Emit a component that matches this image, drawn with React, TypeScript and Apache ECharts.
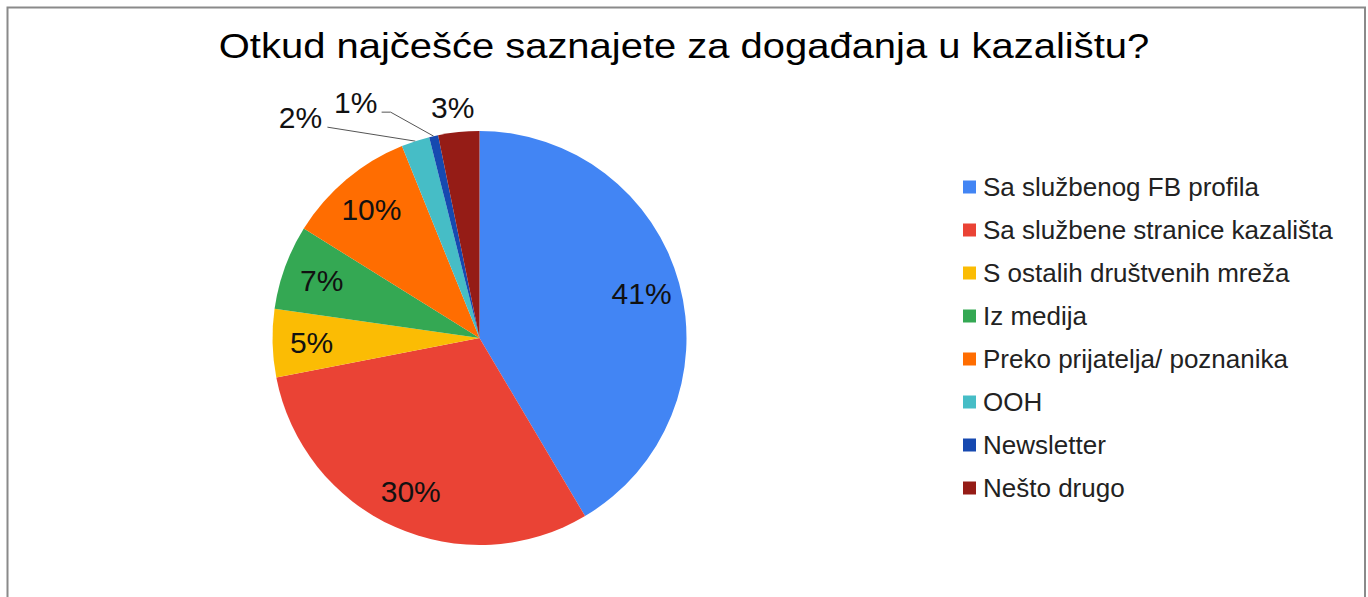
import React, { useEffect, useRef } from "react";
import * as echarts from "echarts";

const TITLE = "Otkud najčešće saznajete za događanja u kazalištu?";
const CATEGORIES = [
  "Sa službenog FB profila",
  "Sa službene stranice kazališta",
  "S ostalih društvenih mreža",
  "Iz medija",
  "Preko prijatelja/ poznanika",
  "OOH",
  "Newsletter",
  "Nešto drugo",
];
const VALUES = [41.4, 30.4, 5.3, 6.6, 10.0, 2.2, 0.7, 3.2];
const COLORS = ["#4285F4", "#EA4335", "#FBBC04", "#34A853", "#FF6D01", "#46BDC6", "#1649B0", "#951C16"];

// indices of slices whose labels sit outside the pie
const OUTSIDE = [5, 6, 7];
// label placement offsets (relative to the slice's outer edge point)
const OUTSIDE_LAYOUT: Record<number, { label: [number, number]; line?: [number, number][] }> = {
  5: { label: [-115, -24], line: [[-88, -14]] },
  6: { label: [-78, -34], line: [[-43, -24], [-52, -24]] },
  7: { label: [-6, -25] },
};

const FONT = "'Liberation Sans', Arial, Helvetica, sans-serif";

export default function App() {
  const ref = useRef<HTMLDivElement>(null);
  useEffect(() => {
    if (!ref.current) return;
    const chart = echarts.init(ref.current, undefined, { renderer: "svg" });
    const center = [479.5, 338];
    const baseData = CATEGORIES.map((name, i) => ({
      name,
      value: VALUES[i],
      itemStyle: { color: COLORS[i] },
    }));
    const labelData = CATEGORIES.map((name, i) => {
      const outside = OUTSIDE.includes(i);
      return {
        name,
        value: VALUES[i],
        label: { position: outside ? "outside" : "inside" },
        labelLine: { show: outside && i !== 7 },
      };
    });
    chart.setOption({
      animation: false,
      textStyle: { fontFamily: FONT },
      legend: {
        orient: "vertical",
        left: 963,
        top: 174,
        padding: 0,
        icon: "rect",
        itemWidth: 13,
        itemHeight: 13,
        itemGap: 17,
        data: CATEGORIES,
        textStyle: { fontSize: 26, lineHeight: 26, color: "#222", fontFamily: FONT, padding: [0, 0, 0, 2] },
      },
      graphic: [
        {
          type: "rect",
          shape: { x: 7.5, y: 7.5, width: 1357.5, height: 640 },
          style: { fill: "none", stroke: "#8a8a8a", lineWidth: 2 },
          silent: true,
          z: -10,
        },
        {
          type: "text",
          x: 684,
          y: 46,
          scaleX: 1.11,
          style: {
            text: TITLE,
            fontSize: 36,
            fontFamily: FONT,
            fill: "#000",
            align: "center",
            verticalAlign: "middle",
          },
          silent: true,
        },
      ],
      series: [
        {
          type: "pie",
          center,
          radius: 207,
          startAngle: 90,
          clockwise: true,
          data: baseData,
          label: { show: false },
          labelLine: { show: false },
          emphasis: { disabled: true },
        },
        {
          type: "pie",
          center,
          radius: [123, 207],
          startAngle: 90,
          clockwise: true,
          silent: true,
          data: labelData,
          itemStyle: { color: "rgba(0,0,0,0)" },
          emphasis: { disabled: true },
          label: {
            show: true,
            fontSize: 30,
            color: "#111",
            fontFamily: FONT,
            formatter: (p: any) => Math.round(p.percent) + "%",
          },
          labelLine: {
            length: 10,
            length2: 10,
            lineStyle: { color: "#555", width: 1 },
          },
          labelLayout: (p: any) => {
            const off = OUTSIDE_LAYOUT[p.dataIndex];
            if (!off) return {};
            let ex: number, ey: number;
            if (p.labelLinePoints && p.labelLinePoints[0]) {
              ex = p.labelLinePoints[0][0];
              ey = p.labelLinePoints[0][1];
            } else {
              const total = VALUES.reduce((a, b) => a + b, 0);
              let before = 0;
              for (let k = 0; k < p.dataIndex; k++) before += VALUES[k];
              const mid = ((before + VALUES[p.dataIndex] / 2) / total) * Math.PI * 2;
              ex = center[0] + 207 * Math.sin(mid);
              ey = center[1] - 207 * Math.cos(mid);
            }
            const res: any = {
              x: ex + off.label[0],
              y: ey + off.label[1],
              align: "center",
              verticalAlign: "middle",
            };
            if (off.line) {
              res.labelLinePoints = [[ex, ey], ...off.line.map(([dx, dy]) => [ex + dx, ey + dy])];
            }
            return res;
          },
        },
      ],
    });
    return () => chart.dispose();
  }, []);
  return (
    <div
      ref={ref}
      style={{ position: "absolute", left: 0, top: 0, width: 1368, height: 597, background: "#fff" }}
    />
  );
}
